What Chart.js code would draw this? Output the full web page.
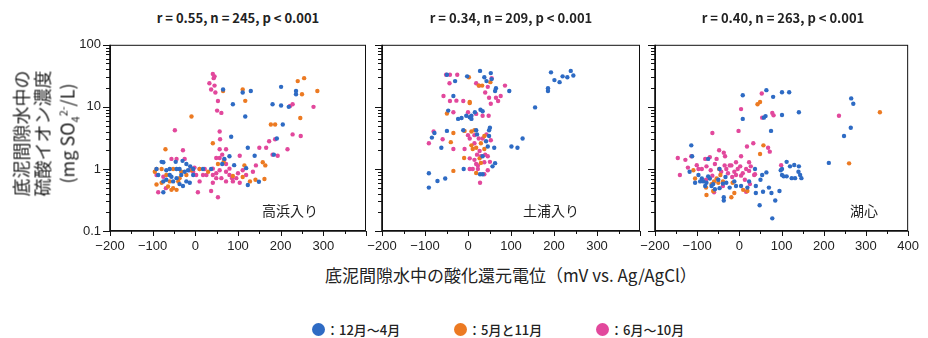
<!DOCTYPE html>
<html>
<head>
<meta charset="utf-8">
<script src="https://cdn.jsdelivr.net/npm/chart.js@4.4.1/dist/chart.umd.min.js"></script>
<style>
  body { margin: 0; background: #fff; width: 928px; height: 338px; position: relative; overflow: hidden;
         font-family: "Noto Sans CJK JP", sans-serif; color: #222; }
  canvas { position: absolute; }
  .t { position: absolute; white-space: nowrap; line-height: 1; }
  .stat { font-size: 13px; font-weight: 700; transform: translateX(-50%); }
  .site { font-size: 14px; }
  .dot { position: absolute; width: 13px; height: 13px; border-radius: 50%; }
</style>
</head>
<body>

<canvas id="c1" width="316" height="233"></canvas>
<canvas id="c2" width="318" height="233"></canvas>
<canvas id="c3" width="317" height="233"></canvas>

<div class="t stat" style="left:238px; top:11px">r = 0.55, n = 245, p &lt; 0.001</div>
<div class="t stat" style="left:511px; top:11px">r = 0.34, n = 209, p &lt; 0.001</div>
<div class="t stat" style="left:783px; top:11px">r = 0.40, n = 263, p &lt; 0.001</div>

<div class="t site" style="left:262px; top:203px">高浜入り</div>
<div class="t site" style="left:523px; top:203px">土浦入り</div>
<div class="t site" style="left:850px; top:203px">湖心</div>

<div class="t" style="left:-38px; top:102px; width:160px; height:63px; transform:rotate(-90deg);
     text-align:center; font-size:18px; line-height:21px">
  底泥間隙水中の<br>硫酸イオン濃度<br>(mg SO<sub style="font-size:11px">4</sub><sup style="font-size:11px">2-</sup>/L)
</div>

<div class="t" style="left:325px; top:266px; font-size:17px">底泥間隙水中の酸化還元電位（mV vs. Ag/AgCl）</div>

<div class="dot" style="left:312px; top:323px; background:#2e6bc4"></div>
<div class="t" style="left:326px; top:323px; font-size:13px; font-weight:500">：12月～4月</div>
<div class="dot" style="left:454px; top:323px; background:#ec7a22"></div>
<div class="t" style="left:468px; top:323px; font-size:13px; font-weight:500">：5月と11月</div>
<div class="dot" style="left:596px; top:323px; background:#e2489c"></div>
<div class="t" style="left:610px; top:323px; font-size:13px; font-weight:500">：6月～10月</div>

<script>
// 色
const BLUE = "#2e6bc4";
const ORANGE = "#ec7a22";
const PINK = "#e2489c";

/*  DATA  [酸化還元電位 mV, 硫酸イオン mg/L]  */
// 高浜入り
const p1Blue = [
  [65,19],[111,17],[130,18],[88,11],[117,7],[123,2.2],[201,21],[236,18],[236,16],[219,10],
  [201,10.5],[205,5.2],[181,11],[139,1.63],[184,1.7],[191,3.1],[84,3.3],[80,1.6],[91,1.15],[63,1.2],
  [68,1.45],[123,0.55],[149,0.62],[119,1.03],[-5,1.0],[-21,1.2],[-12,1.1],[-30,1.35],[-46,1.3],[-75,1.28],
  [-79,1.3],[-91,1.0],[-87,0.8],[-75,0.63],[-68,0.67],[-60,1.0],[-56,0.75],[-44,0.71],[-37,0.57],[-29,0.53],
  [-21,0.63],[-13,0.6],[-17,0.95],[-37,1.0],[-52,0.63],[-75,0.42],[-44,1.0],[-25,0.9],[-5,0.8],[-68,0.95],
  [-33,0.8],[-60,0.8],[18,1.0],[37,1.0],
];
const p1Orange = [
  [-9,7.0],[-70,2.07],[41,2.6],[65,18],[111,19],[117,12.5],[177,5.2],[187,5.2],[240,26],[255,29],
  [250,16],[286,18],[246,6.6],[158,1.28],[164,1.14],[115,1.14],[111,0.74],[128,0.63],[141,0.67],[162,0.69],
  [88,0.77],[-91,1.0],[-95,0.9],[-91,0.56],[-79,1.0],[-68,0.8],[-60,0.63],[-52,0.49],[-56,0.46],[-44,0.46],
  [-37,0.71],[-33,0.9],[-21,0.8],[-9,0.95],[10,1.0],[30,0.9],[-79,0.6],[-52,1.0],[-40,0.63],[-64,0.52],
  [53,1.2],[66,1.28],
];
const p1Pink = [
  [41,34],[45,31],[43,29],[33,24],[45,22],[47,17],[37,19],[53,12.4],[51,8.7],[61,8],
  [57,4],[58,3],[57,2.07],[49,1.5],[57,1.5],[72,2.07],[63,1.7],[68,1.4],[72,1.2],[80,1.01],
  [41,1.01],[49,0.85],[61,0.71],[72,0.63],[26,0.8],[10,0.63],[6,0.42],[37,0.44],[53,0.35],[41,0.6],
  [57,0.95],[86,0.71],[100,0.85],[104,1.63],[119,0.8],[142,1.14],[150,2.2],[166,2.2],[173,2.8],[187,3.0],
  [193,1.63],[181,1.7],[216,2.07],[228,3.6],[247,3.4],[222,10.3],[228,11],[277,10],[-25,1.45],[-29,2.0],
  [-48,4.2],[-91,0.8],[-87,0.42],[-69,0.49],[-44,1.45],[-75,0.75],[-56,1.45],[-5,0.9],[18,0.8],[-13,0.95],
  [10,1.0],[22,1.0],[-2,1.05],[2,0.8],[104,0.6],[88,0.63],[96,0.71],[111,0.95],[135,0.9],[41,0.8],
  [49,0.71],[72,0.9],[80,0.8],
];
// 土浦入り
const p2Blue = [
  [-49,33],[-30,26],[-2,31],[28,38],[53,35],[38,30],[43,26],[55,28],[65,20],[63,18],
  [193,36],[201,27],[186,20],[186,18],[213,25],[220,31],[239,38],[245,32],[231,30],[156,9.8],
  [96,18],[-34,15],[-46,8.7],[-15,6.6],[4,6.8],[16,8.2],[34,8.5],[29,9],[19,4.2],[8,7.2],
  [-23,6.4],[-49,4.1],[-78,3.8],[-84,3.2],[-62,2.2],[-91,0.85],[-91,0.5],[-71,0.64],[-53,0.7],[-11,4.2],
  [-10,1.0],[49,4.2],[51,4.6],[49,3.4],[61,2.2],[63,1.24],[57,1.1],[34,0.82],[28,0.82],[127,3.1],
  [115,2.2],[101,2.3],[42,2.8],[46,2.3],[34,1.6],[8,6.4],[-4,7.2],[21,3.6],
];
const p2Orange = [
  [2,30],[33,22],[25,22],[52,25],[4,12],[4,11.5],[-49,7.8],[-34,3.8],[-40,2.7],[-34,0.93],
  [-8,4.1],[8,4],[15,4.2],[38,3.4],[8,2.4],[11,2.1],[19,2.2],[-9,1.5],[27,1.48],[30,1.25],
  [19,0.86],[38,2.1],[30,2.6],
];
const p2Pink = [
  [-51,33],[-42,33],[-25,33],[-43,24],[19,24],[26,22],[46,21],[55,29],[86,22],[40,17],
  [49,14],[65,14],[76,15],[70,12.4],[53,11.2],[-57,15],[-42,12.4],[-27,12.6],[-11,12.4],[0,8.2],
  [19,7.7],[34,7.2],[48,7.2],[-34,8.2],[-91,2.6],[-80,4],[-59,3],[-34,2.1],[-8,2.1],[4,3.1],
  [0,3.5],[15,3.5],[25,3.1],[34,3.1],[43,3.6],[53,2.9],[4,1.48],[15,1.4],[21,1.7],[27,1.95],
  [30,1.6],[46,1.6],[51,1.3],[23,1.14],[19,1.2],[38,1.28],[28,0.6],[38,0.82],[4,1.0],[11,1.0],
  [46,0.95],[23,1.0],[15,2.6],[40,1.7],
];
// 湖心
const p3Blue = [
  [8,15.4],[64,18.6],[80,14.5],[101,17.2],[118,17.2],[141,8.2],[101,7.4],[62,7.1],[58,6.7],[8,6.4],
  [75,4.1],[265,13.7],[270,11.2],[264,4.6],[248,3.4],[212,1.25],[-114,2.4],[-112,1.6],[-118,0.9],[-97,0.8],
  [-85,0.63],[-74,0.76],[-62,0.57],[-50,0.67],[-39,0.58],[-37,0.35],[-37,0.31],[-23,0.5],[-12,0.63],[4,0.53],
  [23,0.63],[37,1.0],[50,0.67],[54,0.8],[64,0.88],[56,0.43],[70,0.5],[76,0.41],[85,0.31],[95,0.44],
  [48,0.26],[78,0.16],[101,1.0],[101,0.8],[98,0.95],[112,1.3],[120,1.1],[124,0.71],[130,1.16],[140,0.9],
  [141,1.1],[144,0.8],[147,0.71],[112,0.76],[132,0.71],[105,0.76],[-93,0.63],[-105,0.6],[-78,0.6],[-66,0.53],
  [-58,0.47],[-47,0.49],[-31,0.6],[-81,0.53],[-74,1.45],[-47,1.0],[-33,0.74],[-8,0.53],[39,0.53],[19,0.5],
  [39,0.41],[-89,0.7],[-70,0.7],
];
const p3Orange = [
  [43,11],[49,12],[57,2.4],[49,1.74],[260,1.23],[333,8.2],[-109,0.95],[-105,0.7],[-78,0.38],[-60,0.63],
  [-54,0.7],[-50,0.6],[-45,0.8],[-62,0.44],[-66,0.57],[-19,0.35],[-12,0.41],[19,0.44],[9,0.46],[-39,0.63],
  [-48,1.0],[-16,0.6],[-79,0.5],
];
const p3Pink = [
  [53,16.4],[78,8],[81,7.3],[4,9.2],[54,6.7],[-2,4.1],[-64,3.8],[33,2.6],[18,2.3],[68,2.2],
  [72,1.9],[99,1.15],[236,7.2],[-146,1.5],[-141,0.8],[-128,1.4],[-114,1.6],[-122,1.05],[-101,1.15],[-81,1.45],
  [-70,1.55],[-48,2.0],[-37,1.83],[-34,1.6],[-23,1.14],[-8,1.28],[4,1.6],[2,1.1],[16,1.0],[27,1.1],
  [23,0.93],[8,0.85],[-8,0.8],[-12,0.9],[-27,0.85],[-43,0.9],[-54,1.45],[-58,1.2],[-78,1.1],[-89,1.0],
  [-97,1.0],[-35,1.14],[-19,1.14],[-4,1.0],[-39,0.53],[-60,0.42],[-79,0.67],[-64,0.78],[-17,0.74],[13,0.67],
  [25,0.57],[35,0.8],[16,0.43],[-68,0.95],[-31,1.0],[23,1.28],[37,0.82],[4,0.78],
];

const xTicks = [-200, -100, 0, 100, 200, 300, 400];
const yTicks = [0.1, 1, 10, 100];

// 枠と目盛り線（短い目盛りも含む）
const framePlugin = {
  id: "frame",
  afterDraw(chart) {
    const { ctx, chartArea: { left, right, top, bottom }, scales: { x, y } } = chart;
    ctx.save();
    ctx.strokeStyle = "#111";
    ctx.lineWidth = 1;
    ctx.strokeRect(left + 0.5, top + 0.5, right - left - 1, bottom - top - 1);
    ctx.lineWidth = 1.6;
    ctx.beginPath();
    ctx.moveTo(left, top); ctx.lineTo(left, bottom); ctx.lineTo(right, bottom);
    ctx.stroke();

    ctx.lineWidth = 1;
    ctx.beginPath();
    [0.1, 1, 10].forEach((d) => {
      for (let k = 1; k <= 9; k++) {
        const py = Math.round(y.getPixelForValue(k * d)) + 0.5;
        const len = k === 1 ? 7 : 4;
        ctx.moveTo(left - len, py); ctx.lineTo(left, py);
      }
    });
    const pTop = Math.round(y.getPixelForValue(100)) + 0.5;
    ctx.moveTo(left - 7, pTop); ctx.lineTo(left, pTop);
    for (let v = -200; v <= 400; v += 50) {
      const px = Math.round(x.getPixelForValue(v)) + 0.5;
      const len = v % 100 === 0 ? 5 : 3;
      ctx.moveTo(px, bottom); ctx.lineTo(px, bottom + len);
    }
    ctx.stroke();
    ctx.restore();
  },
};

function pts(arr) {
  return arr.map(([x, y]) => ({ x, y }));
}

function makePanel(id, left, width, blue, orange, pink, showY, showLast) {
  const canvas = document.getElementById(id);
  canvas.style.left = left - 45 + "px";
  canvas.style.top = "28px";
  const ds = (data, color) => ({
    data: pts(data),
    backgroundColor: color,
    borderWidth: 0,
    pointRadius: 2.2,
    pointHoverRadius: 2.2,
  });
  new Chart(canvas.getContext("2d"), {
    type: "scatter",
    data: { datasets: [ds(blue, BLUE), ds(orange, ORANGE), ds(pink, PINK)] },
    options: {
      responsive: false,
      animation: false,
      layout: { padding: { top: 10, right: 15, left: 0, bottom: 0 } },
      plugins: { legend: { display: false }, tooltip: { enabled: false } },
      scales: {
        x: {
          type: "linear",
          min: -200,
          max: 400,
          afterBuildTicks: (s) => { s.ticks = xTicks.map((v) => ({ value: v })); },
          afterFit: (s) => { s.height = 30; },
          grid: { display: false, drawTicks: false },
          border: { display: false },
          ticks: {
            padding: 8,
            color: "#222",
            font: { family: "Liberation Sans", size: 13 },
            maxRotation: 0,
            autoSkip: false,
            callback: (v) => (v === 400 && !showLast ? "" : String(v).replace("-", "\u2212")),
          },
        },
        y: {
          type: "logarithmic",
          min: 0.1,
          max: 100,
          afterBuildTicks: (s) => { s.ticks = yTicks.map((v) => ({ value: v })); },
          afterFit: (s) => { s.width = 45; },
          grid: { display: false, drawTicks: false },
          border: { display: false },
          ticks: {
            padding: 9,
            color: "#222",
            font: { family: "Liberation Sans", size: 13 },
            autoSkip: false,
            callback: (v) => (showY ? String(v) : ""),
          },
        },
      },
    },
    plugins: [framePlugin],
  });
}

makePanel("c1", 110, 256, p1Blue, p1Orange, p1Pink, true, false);
makePanel("c2", 382, 258, p2Blue, p2Orange, p2Pink, false, false);
makePanel("c3", 655, 257, p3Blue, p3Orange, p3Pink, false, true);
</script>
</body>
</html>
